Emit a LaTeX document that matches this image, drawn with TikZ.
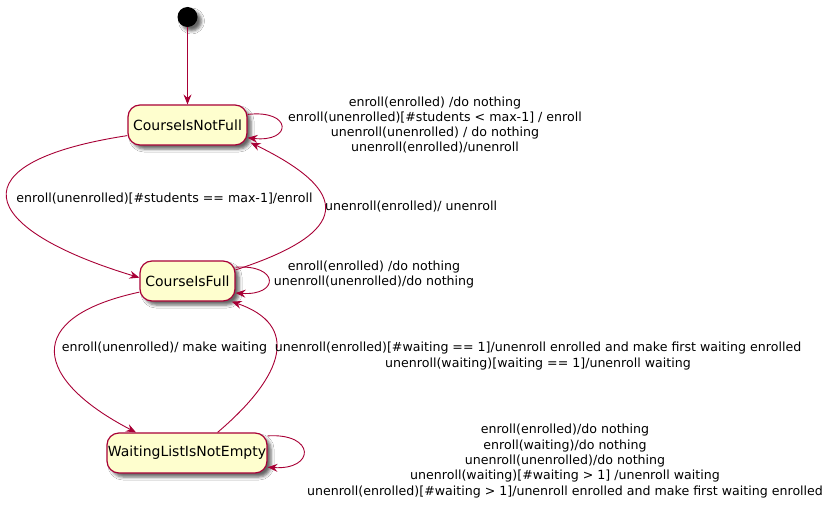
\documentclass[tikz,border=0pt]{standalone}
\usepackage{fontspec}
\setmainfont{DejaVu Sans}
\usetikzlibrary{arrows.meta,shadows.blur,calc}
\definecolor{pred}{HTML}{A80036}
\definecolor{pfill}{HTML}{FEFECE}
\begin{document}
\begin{tikzpicture}[x=1pt,y=-1pt,
  shad/.style={blur shadow={shadow xshift=4pt, shadow yshift=-4pt, shadow blur radius=3pt, shadow opacity=60}},
  state/.style={draw=pred, fill=pfill, line width=1.2pt, rounded corners=12pt, minimum height=40pt, inner sep=0pt, font=\fontsize{14}{16}\selectfont, shad},
  lbl/.style={align=center, font=\fontsize{12.6}{15.3}\selectfont, inner sep=0pt},
  tr/.style={draw=pred, line width=0.9pt, -{Stealth[length=10pt,width=8pt,inset=3.5pt]}}]
\useasboundingbox (0,0) rectangle (832,508);
\fill[white] (0,0) rectangle (832,508);

\node[circle, fill=black, minimum size=20pt, inner sep=0pt, shad] (start) at (187.5,17) {};
\node[state, minimum width=119pt] (cnf) at (187.5,125) {CourseIsNotFull};
\node[state, minimum width=95pt] (cf) at (187.5,281) {CourseIsFull};
\node[state, minimum width=160pt] (wl) at (187,453) {WaitingListIsNotEmpty};

\draw[tr] (start) -- (cnf);
\draw[tr] (cnf.10) .. controls +(45,-5) and +(45,5) .. (cnf.-12);
\draw[tr] (cnf.190) .. controls (-45,162) and (-25,228) .. (cf.176);
\draw[tr] (cf.13) .. controls (352,232) and (352,192) .. ($(cnf.south east)+(3,-3)$);
\draw[tr] (cf.16) .. controls +(44,-3) and +(44,3) .. (cf.-14);
\draw[tr] (cf.193) .. controls (20,318) and (35,380) .. (wl.158);
\draw[tr] (wl.34) .. controls (285,375) and (300,325) .. (cf.-25);
\draw[tr] (wl.12) .. controls +(48,-3) and +(48,3) .. (wl.-10);

\node[lbl] (l1) at (435,125) {enroll(enrolled) /do nothing\\enroll(unenrolled)[\#students < max-1] / enroll\\unenroll(unenrolled) / do nothing\\unenroll(enrolled)/unenroll};
\node[lbl] (l2) at (164.5,199) {enroll(unenrolled)[\#students == max-1]/enroll};
\node[lbl, anchor=west] (l3) at (325,207) {unenroll(enrolled)/ unenroll};
\node[lbl] (l4) at (374,274.5) {enroll(enrolled) /do nothing\\unenroll(unenrolled)/do nothing};
\node[lbl] (l5) at (164.5,348) {enroll(unenrolled)/ make waiting};
\node[lbl] (l6) at (538,356) {unenroll(enrolled)[\#waiting == 1]/unenroll enrolled and make first waiting enrolled\\unenroll(waiting)[waiting == 1]/unenroll waiting};
\node[lbl] (l7) at (565,461) {enroll(enrolled)/do nothing\\enroll(waiting)/do nothing\\unenroll(unenrolled)/do nothing\\unenroll(waiting)[\#waiting > 1] /unenroll waiting\\unenroll(enrolled)[\#waiting > 1]/unenroll enrolled and make first waiting enrolled};
\end{tikzpicture}
\end{document}
